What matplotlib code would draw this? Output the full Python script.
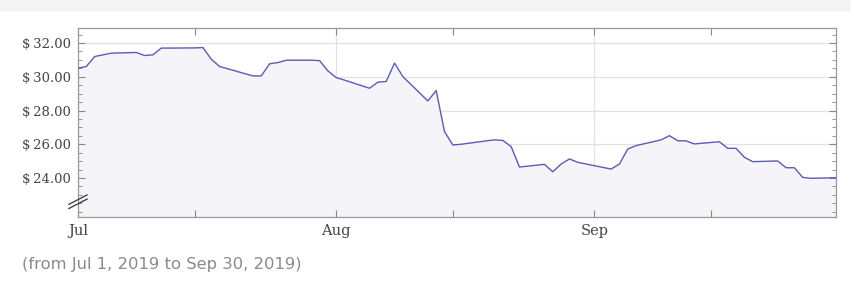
import numpy as np
import pandas as pd
import matplotlib
matplotlib.use('Agg')
import matplotlib.pyplot as plt
import matplotlib.dates as mdates
from matplotlib.ticker import MultipleLocator, FuncFormatter

# closing prices (trading days, Jul 1 - Sep 30 2019)
dates = [
    '2019-07-01', '2019-07-02', '2019-07-03', '2019-07-05', '2019-07-08',
    '2019-07-09', '2019-07-10', '2019-07-11', '2019-07-12', '2019-07-15',
    '2019-07-16', '2019-07-17', '2019-07-18', '2019-07-19', '2019-07-22',
    '2019-07-23', '2019-07-24', '2019-07-25', '2019-07-26', '2019-07-29',
    '2019-07-30', '2019-07-31', '2019-08-01', '2019-08-02', '2019-08-05',
    '2019-08-06', '2019-08-07', '2019-08-08', '2019-08-09', '2019-08-12',
    '2019-08-13', '2019-08-14', '2019-08-15', '2019-08-16', '2019-08-19',
    '2019-08-20', '2019-08-21', '2019-08-22', '2019-08-23', '2019-08-26',
    '2019-08-27', '2019-08-28', '2019-08-29', '2019-08-30', '2019-09-03',
    '2019-09-04', '2019-09-05', '2019-09-06', '2019-09-09', '2019-09-10',
    '2019-09-11', '2019-09-12', '2019-09-13', '2019-09-16', '2019-09-17',
    '2019-09-18', '2019-09-19', '2019-09-20', '2019-09-23', '2019-09-24',
    '2019-09-25', '2019-09-26', '2019-09-27', '2019-09-30',
]
prices = [
    30.51, 30.61, 31.20, 31.40, 31.44,
    31.26, 31.30, 31.70, 31.70, 31.71,
    31.73, 31.04, 30.61, 30.47, 30.05,
    30.05, 30.77, 30.84, 30.98, 30.98,
    30.96, 30.35, 29.95, 29.80, 29.32,
    29.68, 29.72, 30.81, 30.01, 28.57,
    29.18, 26.75, 25.96, 26.00, 26.20,
    26.26, 26.23, 25.86, 24.65, 24.81,
    24.37, 24.83, 25.13, 24.93, 24.53,
    24.83, 25.72, 25.92, 26.26, 26.51,
    26.21, 26.20, 26.02, 26.15, 25.76,
    25.76, 25.23, 24.97, 25.01, 24.61,
    24.61, 24.04, 23.98, 24.02,
]
y_ticks = [24, 26, 28, 30, 32]
caption = '(from Jul 1, 2019 to Sep 30, 2019)'

x = pd.to_datetime(dates)
y_min, y_max = 21.69, 32.89

fig = plt.figure(figsize=(8.51, 2.92), dpi=100)

# light gray band across the top
fig.patches.append(plt.Rectangle((0, 1 - 10 / 292), 1, 10 / 292,
                                 transform=fig.transFigure, color='#f4f4f4', zorder=0))

ax = fig.add_axes([78 / 851, 1 - 217 / 292, (836 - 78) / 851, (217 - 28) / 292])

ax.fill_between(x, prices, y_min, color='#f4f4f9', zorder=1)
ax.plot(x, prices, color='#5a5db5', linewidth=1.0, zorder=3)

ax.set_xlim(pd.Timestamp('2019-07-01'), pd.Timestamp('2019-09-30'))
ax.set_ylim(y_min, y_max)

# grid lines
for v in y_ticks:
    ax.axhline(v, color='#e2e2e2', linewidth=0.9, zorder=0.5)
for d in ['2019-08-01', '2019-09-01']:
    ax.axvline(pd.Timestamp(d), color='#e2e2e2', linewidth=0.9, zorder=0.5)

ax.set_yticks(y_ticks)
ax.yaxis.set_minor_locator(MultipleLocator(0.5))
ax.yaxis.set_major_formatter(FuncFormatter(lambda v, p: '\\$\u2009%.2f' % v))

ax.xaxis.set_major_locator(mdates.MonthLocator())
ax.xaxis.set_major_formatter(mdates.DateFormatter('%b'))
ax.xaxis.set_minor_locator(mdates.DayLocator(bymonthday=15))

ax.tick_params(axis='both', which='both', direction='in', color='#888888',
               top=True, right=True, labelcolor='#444444')
ax.tick_params(axis='both', which='major', length=5, width=0.8)
ax.tick_params(axis='both', which='minor', length=3, width=0.6)
ax.tick_params(axis='x', which='minor', length=5, width=0.8)
ax.tick_params(axis='y', which='major', pad=5)
ax.tick_params(axis='x', which='major', pad=5)

for lbl in ax.get_yticklabels():
    lbl.set_fontfamily('DejaVu Serif')
    lbl.set_fontsize(9.5)
for lbl in ax.get_xticklabels():
    lbl.set_fontfamily('DejaVu Serif')
    lbl.set_fontsize(10.5)

for s in ax.spines.values():
    s.set_color('#999999')
    s.set_linewidth(0.9)

# axis break mark on the left spine
bx = [-0.012, 0.012]
for off in [0.0, 0.022]:
    ax.plot(bx, [0.045 + off, 0.095 + off], transform=ax.transAxes,
            color='#333333', linewidth=0.9, clip_on=False, zorder=5)

fig.text(22 / 851, 1 - 265 / 292, caption, fontsize=11.8, color='#8a8a8a',
         family='DejaVu Sans', va='center', ha='left')

fig.savefig('out.png', dpi=100)
